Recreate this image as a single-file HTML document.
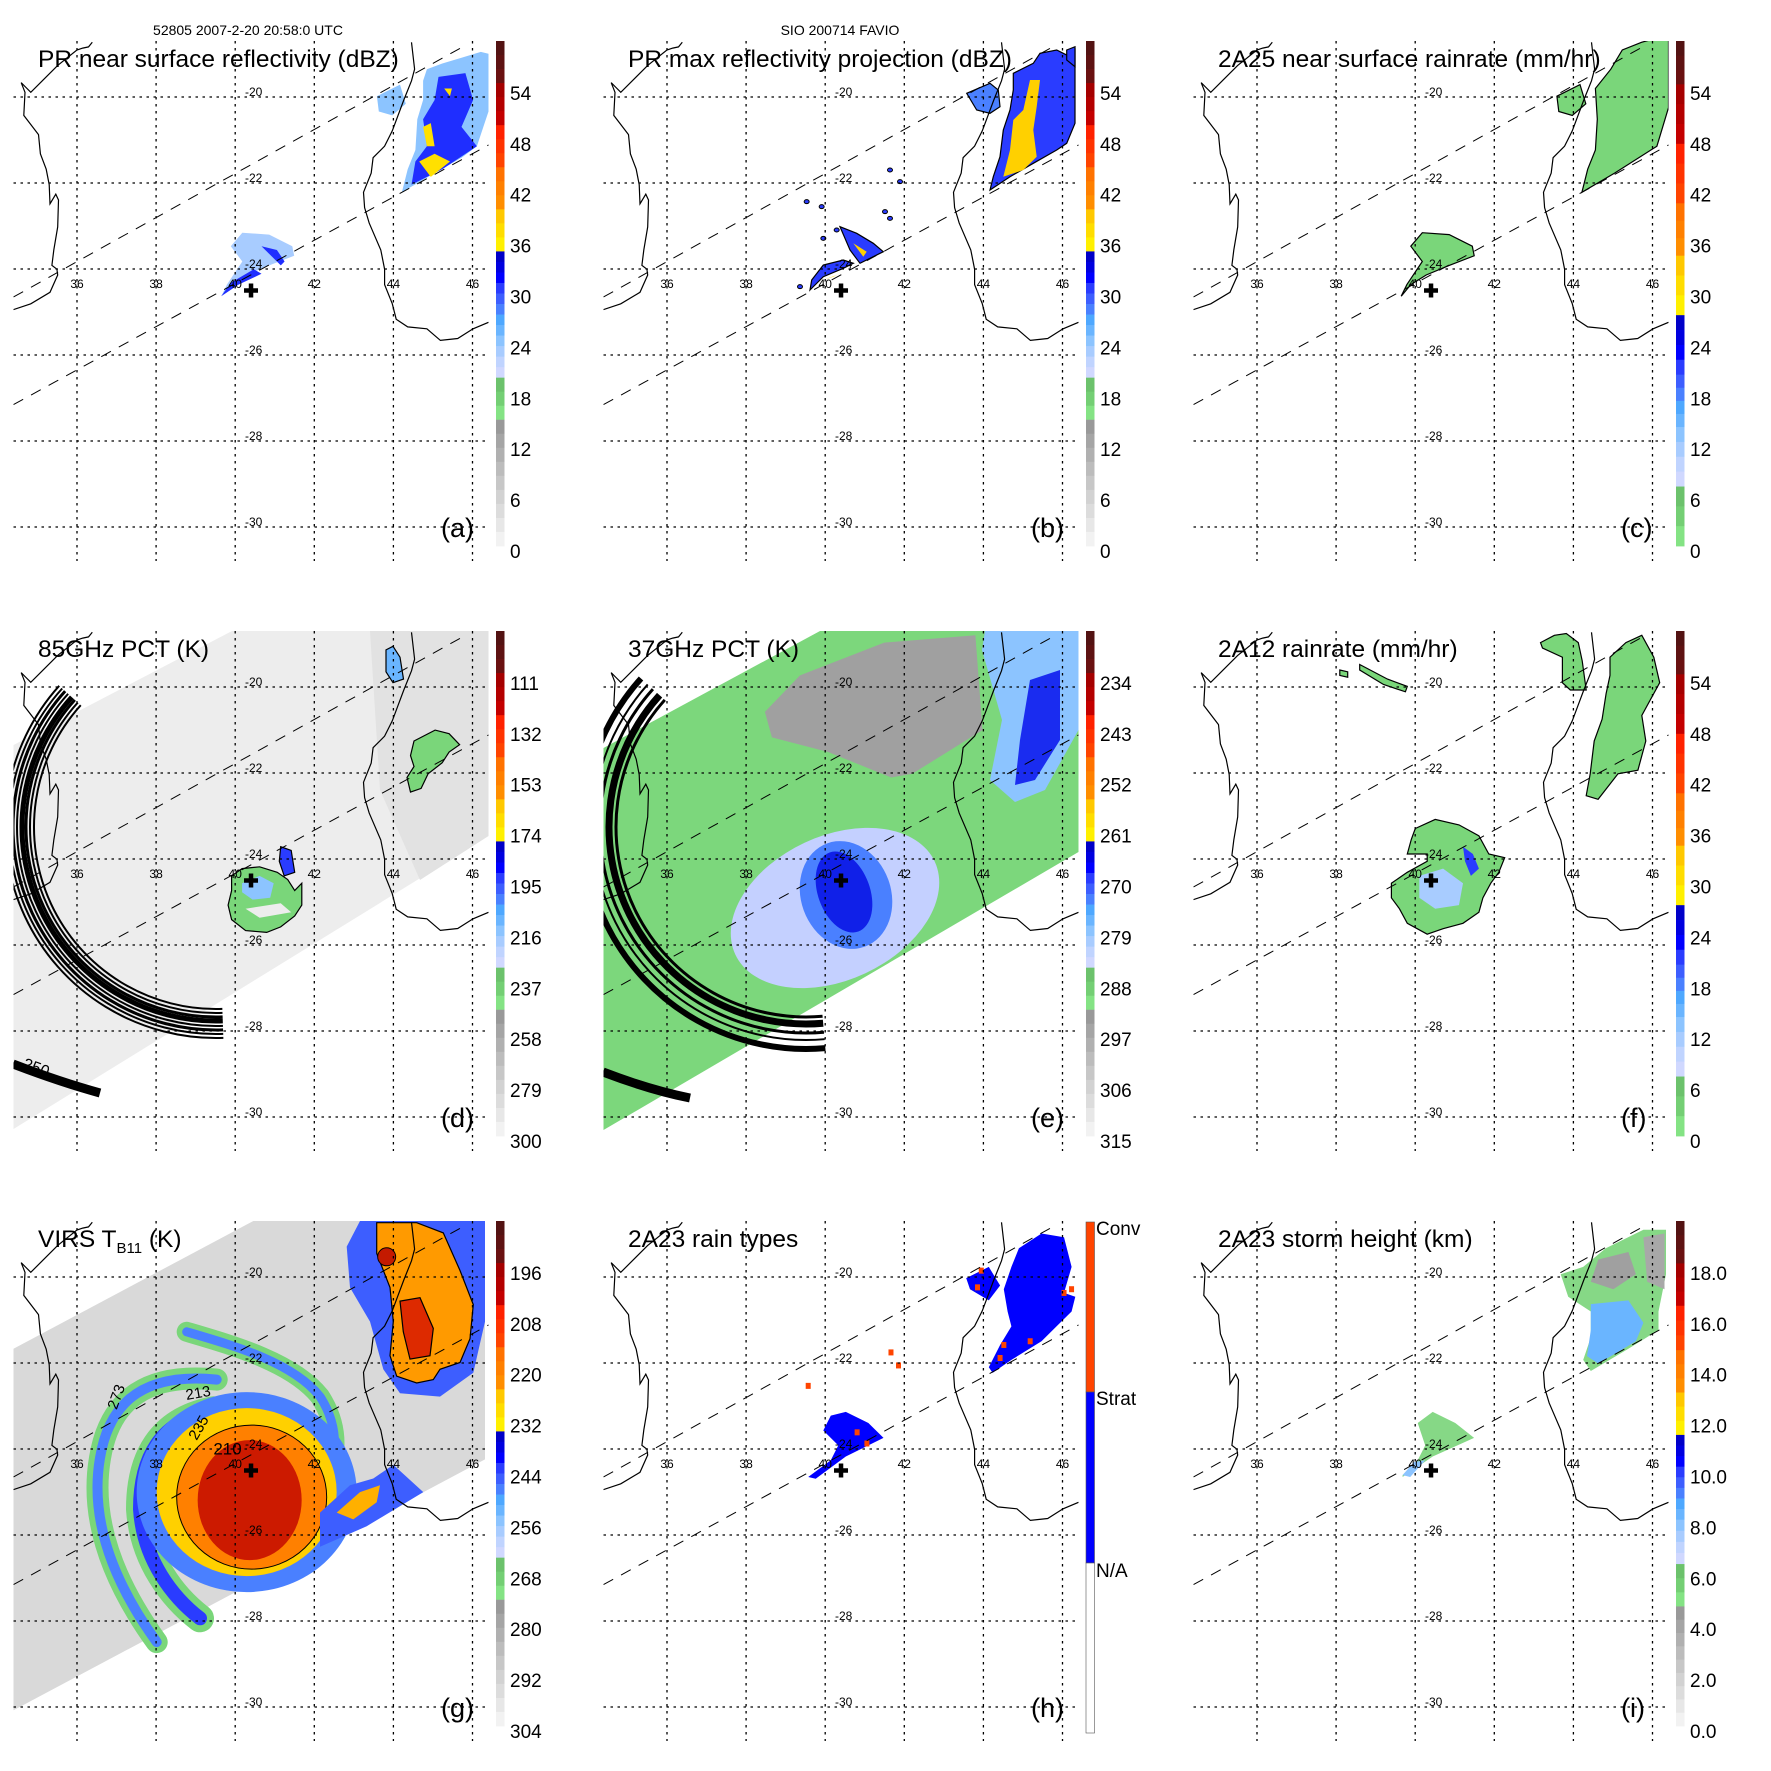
<!DOCTYPE html>
<html><head><meta charset="utf-8"><style>
html,body{margin:0;padding:0;background:#fff;}
svg{display:block;font-family:"Liberation Sans",sans-serif;}
</style></head><body>
<svg id="fig" xmlns="http://www.w3.org/2000/svg" width="1771" height="1771" viewBox="0 0 1771 1771">
<defs>
<clipPath id="plotclip"><rect x="13.5" y="41" width="475" height="521"/></clipPath>
</defs>
<text x="248" y="35" font-size="14" text-anchor="middle">52805 2007-2-20 20:58:0 UTC</text>
<text x="840" y="35" font-size="14" text-anchor="middle">SIO 200714 FAVIO</text>
</svg>
<script>
// ---- data arrays ----
var lonTicks = [36, 38, 40, 42, 44, 46];
var latTicks = [-20, -22, -24, -26, -28, -30];
var stormCenter = [40.4, -24.5];
var labelsA = ['0','6','12','18','24','30','36','42','48','54'];
var labelsC = ['0','6','12','18','24','30','36','42','48','54'];
var labelsD = ['300','279','258','237','216','195','174','153','132','111'];
var labelsE = ['315','306','297','288','279','270','261','252','243','234'];
var labelsG = ['304','292','280','268','256','244','232','220','208','196'];
var labelsI = ['0.0','2.0','4.0','6.0','8.0','10.0','12.0','14.0','16.0','18.0'];
var labelsH = ['Conv','Strat','N/A'];
var titles = ['PR near surface reflectivity (dBZ)','PR max reflectivity projection (dBZ)','2A25 near surface rainrate (mm/hr)','85GHz PCT (K)','37GHz PCT (K)','2A12 rainrate (mm/hr)','VIRS T','2A23 rain types','2A23 storm height (km)'];
var letters = ['(a)','(b)','(c)','(d)','(e)','(f)','(g)','(h)','(i)'];

// ---- axis functions ----
function X(lon){ return 77 + (lon-36)*39.55; }
function Y(lat){ return 97 + (-20-lat)*43.0; }

var NS='http://www.w3.org/2000/svg';
var svg=document.getElementById('fig');
function el(tag, attrs, parent){ var e=document.createElementNS(NS,tag); for(var k in attrs) e.setAttribute(k,attrs[k]); (parent||svg).appendChild(e); return e; }
function pts(arr, f){ return arr.map(function(p){ var q=f(p[0],p[1]); return q[0].toFixed(1)+','+q[1].toFixed(1); }).join(' '); }
var Z3=function(x,y){return [x/2.6,y/2.6];};
var Z7=function(x,y){return [x/3,y/3+30];};
var Z4d=function(x,y){return [x/1.425,100+(y-190)*0.3645];};
var Z4e=function(x,y){return [x/1.425-590,100+(y-190)*0.3645];};
var Z5=function(x,y){return [x/2.516-31,100+(y-190)*0.3645];};
var Z2=function(x,y){return [x/3,100+(y-178)*0.341];};
var Z6h=function(x,y){return [x/1.329,y/2.69+20];};
var Z6i=function(x,y){return [x/1.329-590,y/2.69+20];};
var ID=function(x,y){return [x,y];};
function poly(g, arr, f, fill, stroke, name){ var p=el('polygon',{points:pts(arr,f),fill:fill,stroke:stroke||'none','stroke-width':1.2},g);
 
  return p; }

var africa=[[240,110],[230,122],[215,125],[200,130],[150,170],[110,210],[80,240],[65,225],[55,215],[65,240],[62,300],[100,350],[105,400],[120,440],[128,480],[130,530],[145,505],[152,520],[150,590],[140,650],[135,690],[148,700],[150,715],[130,760],[80,790],[35,805]];
var madag=[[1070,110],[1078,180],[1070,210],[1050,260],[1020,340],[1000,380],[970,410],[965,450],[945,500],[948,540],[960,580],[990,650],[1000,700],[1000,740],[1020,790],[1030,830],[1060,850],[1110,855],[1145,885],[1190,880],[1230,855],[1270,838]];

var maroon=['#531313','#5e1212','#6a1111'], dred=['#a50000','#b40000','#c40000'], red=['#ff2200','#ff3300','#ff4400'],
 orange=['#ff7200','#ff8000','#ff8e00'], yellow=['#ffc800','#ffdd00','#fff000'],
 blues=['#0000c8','#0000e0','#0000ff','#2a3cff','#3d5eff','#4a80ff','#4ea8ff','#6ab5ff','#8cc4ff','#a8ccff','#c0d4ff','#d0d8ff'],
 green=['#6cc26c','#74cf74','#84e384'], gray=['#999','#a5a5a5','#b0b0b0','#bcbcbc','#c7c7c7','#d2d2d2','#dcdcdc','#e7e7e7','#f2f2f2'];
var STD=[[3,maroon],[3,dred],[3,red],[3,orange],[3,yellow],[9,blues],[3,green],[9,gray]];
var CF=[[.086,maroon],[.118,dred],[.118,red],[.104,orange],[.118,yellow],[.118,blues.slice(0,4)],[.104,blues.slice(4,8)],[.118,blues.slice(8)],[.118,green]];
var IB=[[.084,maroon],[.084,dred],[.088,red],[.084,orange],[.084,yellow],[.168,blues.slice(0,8)],[.088,blues.slice(8)],[.084,green],[.237,gray]];

function colorbar(g, spec, labels){
  var top=41, bot=546, tot=0; spec.forEach(function(s){tot+=s[0];});
  var y=top;
  spec.forEach(function(s){ var h=(bot-top)*s[0]/tot, n=s[1].length;
    s[1].forEach(function(c,i){ var r=el('rect',{x:496,y:(y+h*i/n).toFixed(2),width:8.5,height:(h/n+0.4).toFixed(2),fill:c},g);
      
       });
    y+=h; });
  labels.forEach(function(t,k){ var cy=551-50.9*k;
    var tx=el('text',{x:510,y:(cy+7).toFixed(1),'font-size':19},g); tx.textContent=t;
    
     });
}

var panels=[];
for(var r=0;r<3;r++) for(var c=0;c<3;c++){
  var g=el('g',{transform:'translate('+(c*590)+','+(r*590)+')'});
  
  
  var data=el('g',{'clip-path':'url(#plotclip)'},g);
  
  
  var over=el('g',{'clip-path':'url(#plotclip)'},g);
  panels.push({g:g,data:data,over:over});
}

// (a)
(function(){ var d=panels[0].data;
 poly(d,[[1110,180],[1150,165],[1200,150],[1250,135],[1270,140],[1270,290],[1240,380],[1200,410],[1130,450],[1045,500],[1060,440],[1080,390],[1085,310],[1100,260],[1100,210]],Z3,'#8cc4ff');
 poly(d,[[1140,200],[1210,190],[1230,260],[1200,330],[1240,380],[1150,440],[1070,480],[1080,420],[1110,380],[1100,310],[1130,260]],Z3,'#1f2eff');
 poly(d,[[1090,420],[1130,400],[1170,420],[1120,460]],Z3,'#ffe000');
 poly(d,[[1100,330],[1120,320],[1130,380],[1110,380]],Z3,'#ffe000');
 poly(d,[[1155,230],[1175,230],[1170,250]],Z3,'#ffe000');
 poly(d,[[980,250],[1040,220],[1055,270],[1020,300],[985,290]],Z3,'#8cc4ff');
 poly(d,[[575,770],[600,740],[640,715],[700,690],[765,665],[760,640],[700,610],[630,605],[600,640],[630,680],[590,740]],Z3,'#a8ccff');
 poly(d,[[575,770],[620,740],[680,712],[660,700],[600,735]],Z3,'#1f2eff');
 poly(d,[[680,640],[720,650],[740,680],[730,690]],Z3,'#1f2eff');
})();
// (b)
(function(){ var d=panels[1].data;
 poly(d,[[1270,130],[1330,100],[1350,70],[1400,60],[1440,80],[1455,60],[1455,280],[1430,340],[1400,360],[1330,400],[1260,440],[1200,480],[1210,440],[1230,380],[1240,300],[1260,240],[1270,180]],Z7,'#2a3cff','#000');
 poly(d,[[1320,150],[1350,150],[1340,230],[1330,300],[1340,380],[1300,420],[1240,440],[1260,360],[1270,270],[1300,240]],Z7,'#ffd000');
 poly(d,[[1130,190],[1200,160],[1225,180],[1230,230],[1200,250],[1160,240]],Z7,'#4a80ff','#000');
 poly(d,[[1430,60],[1455,50],[1455,110],[1430,90]],Z7,'#2a3cff','#000');
 poly(d,[[660,780],[700,740],[760,715],[790,700],[760,690],[700,705],[665,750]],Z7,'#2a3cff','#000');
 poly(d,[[700,750],[740,735],[760,725],[730,740]],Z7,'#ffd000');
 poly(d,[[750,590],[800,610],[850,640],[880,665],[810,700],[780,660]],Z7,'#2a3cff','#000');
 poly(d,[[790,640],[830,665],[820,680]],Z7,'#ffd000');
 [[900,420],[930,455],[885,545],[900,565],[650,515],[695,530],[740,600],[700,625],[630,770]].forEach(function(p){
  var q=Z7(p[0],p[1]); var e=el('ellipse',{cx:q[0],cy:q[1],rx:2.5,ry:2,fill:'#2a3cff',stroke:'#000'},d);
  
   });
})();
// (c)
(function(){ var d=panels[2].data;
 poly(d,[[1080,230],[1120,180],[1150,130],[1200,110],[1255,95],[1270,90],[1270,280],[1240,380],[1130,450],[1045,500],[1060,440],[1080,390],[1085,310]],Z3,'#7ad67a','#000');
 poly(d,[[980,250],[1040,220],[1055,270],[1020,300],[985,290]],Z3,'#7ad67a','#000');
 poly(d,[[575,770],[600,740],[640,715],[700,690],[765,665],[760,640],[700,610],[630,605],[600,640],[630,680],[590,740]],Z3,'#7ad67a','#000');
})();
// (d)
(function(){ var d=panels[3].data;
 poly(d,[[13.5,155],[232,41],[488.5,41],[488.5,246],[13.5,539]],ID,'#ededed',null,'tmi-swath');
 poly(d,[[370,41],[488.5,41],[488.5,246],[420,290],[380,200]],ID,'#e2e2e2');
 [[182,2],[186,2],[190,3],[194,5],[199,2],[203,3],[207,2],[211,2]].forEach(function(a){
  var cx=216,cy=237,r=a[0],t1=88*Math.PI/180,t2=222*Math.PI/180;
  var p=el('path',{d:'M'+(cx+r*Math.cos(t1))+','+(cy+r*Math.sin(t1))+' A'+r+','+r+' 0 0 1 '+(cx+r*Math.cos(t2))+','+(cy+r*Math.sin(t2)),fill:'none',stroke:'#000','stroke-width':a[1]},d);
  
   });
 var b=el('path',{d:'M13,474 Q60,492 100,503',stroke:'#000','stroke-width':9,fill:'none'},d);
 
 
 poly(d,[[330,700],[345,680],[370,675],[395,690],[410,710],[420,740],[430,720],[430,780],[420,810],[400,840],[380,855],[350,850],[330,820],[325,780],[330,740]],Z4d,'#7ad67a','#000');
 poly(d,[[345,720],[370,700],[390,720],[385,760],[360,765],[345,745]],Z4d,'#8cc4ff');
 poly(d,[[350,790],[400,775],[415,800],[370,815]],Z4d,'#ededed');
 poly(d,[[400,620],[415,630],[420,690],[405,700],[398,660]],Z4d,'#2a3cff','#000');
 poly(d,[[590,330],[620,300],[640,310],[655,340],[640,360],[630,390],[610,420],[600,460],[585,470],[580,430],[590,400],[585,370]],Z4d,'#7ad67a','#000');
 poly(d,[[550,80],[560,70],[570,100],[575,160],[560,170],[550,140]],Z4d,'#6ab5ff','#000');
 var t=el('text',{x:22,y:478,'font-size':16,transform:'rotate(20 22 478)'},d); t.textContent='250';
 
 
})();
// (e)
(function(){ var d=panels[4].data;
 poly(d,[[13.5,158],[230,41],[488.5,41],[488.5,262],[13.5,540]],ID,'#7cd77c',null,'tmi-swath');
 poly(d,[[1090,250],[1140,150],[1260,60],[1390,40],[1400,300],[1300,420],[1270,430],[1180,360],[1100,320]],Z4e,'#a0a0a0');
 var e1=el('ellipse',{cx:245,cy:318,rx:110,ry:72,fill:'#c4d0ff',transform:'rotate(-25 245 318)'},d);
 
 
 var e2=el('ellipse',{cx:256,cy:305,rx:45,ry:55,fill:'#4a80ff',transform:'rotate(-20 256 305)'},d);
 
 
 var e3=el('ellipse',{cx:254,cy:302,rx:26,ry:42,fill:'#1020e8',transform:'rotate(-20 254 302)'},d);
 
 
 poly(d,[[395,41],[488.5,41],[488.5,140],[455,200],[425,212],[400,190],[412,130],[392,60]],ID,'#8cc4ff');
 poly(d,[[440,90],[470,80],[470,150],[445,190],[425,195],[430,150]],ID,'#1a2cf0');
 [[190,3],[197,7],[206,3],[213,2],[222,6]].forEach(function(a){
  var cx=216,cy=237,r=a[0],t1=85*Math.PI/180,t2=222*Math.PI/180;
  var p=el('path',{d:'M'+(cx+r*Math.cos(t1))+','+(cy+r*Math.sin(t1))+' A'+r+','+r+' 0 0 1 '+(cx+r*Math.cos(t2))+','+(cy+r*Math.sin(t2)),fill:'none',stroke:'#000','stroke-width':a[1]},d);
  
   });
 var b=el('path',{d:'M13,482 Q60,500 100,508',stroke:'#000','stroke-width':9,fill:'none'},d);
 
 
})();
// (f)
(function(){ var d=panels[5].data;
 poly(d,[[670,570],[720,545],[780,560],[830,590],[855,640],[895,650],[880,690],[860,720],[840,760],[830,800],[790,830],[740,845],[700,860],[650,830],[630,790],[610,760],[610,720],[650,690],[700,660],[700,640],[650,640],[660,600]],Z5,'#7ad67a','#000');
 poly(d,[[680,700],[740,680],[790,720],[780,780],[720,790],[680,760]],Z5,'#a8ccff');
 poly(d,[[790,620],[815,640],[830,680],[810,700],[795,660]],Z5,'#2a3cff');
 poly(d,[[1160,100],[1200,60],[1240,40],[1270,100],[1285,170],[1240,260],[1250,330],[1230,410],[1180,420],[1130,490],[1100,480],[1110,420],[1120,330],[1140,270],[1150,200],[1160,150]],Z5,'#7ad67a','#000');
 poly(d,[[985,60],[1020,40],[1050,35],[1080,60],[1090,110],[1100,190],[1060,190],[1040,170],[1040,100],[990,75]],Z5,'#7ad67a','#000');
 poly(d,[[480,135],[500,140],[500,155],[480,150]],Z5,'#7ad67a','#000');
 poly(d,[[530,120],[600,160],[650,180],[645,195],[590,175],[530,135]],Z5,'#7ad67a','#000');
})();
// (g)
(function(){ var d=panels[6].data;
 poly(d,[[40,380],[760,5],[1455,5],[1455,704],[40,1440]],Z2,'#d9d9d9',null,'virs-swath');
 function band(dstr,w,col,nm){ var p=el('path',{d:dstr,fill:'none',stroke:col,'stroke-width':w,'stroke-linecap':'round'},d);
  
   }
 var t=function(s){ return s.replace(/(-?\d+\.?\d*),(-?\d+\.?\d*)/g,function(m,a,b){var q=Z2(+a,+b);return q[0].toFixed(1)+','+q[1].toFixed(1);}); };
 var armC=t('M650,470 C450,450 330,520 300,700 C270,870 330,1050 470,1240');
 var armA=t('M560,330 C700,370 880,420 960,520 C1000,580 1010,640 1000,700');
 var armD=t('M640,560 C480,590 420,700 420,850 C430,1000 520,1110 600,1170');
 band(armC,22,'#7ad67a','spiral-band'); band(armC,10,'#4a80ff','spiral-band-core');
 band(armA,20,'#7ad67a','spiral-band'); band(armA,9,'#4a80ff','spiral-band-core');
 band(armD,28,'#7ad67a','spiral-band'); band(armD,14,'#2a3cff','spiral-band-core');
 var q=Z2(740,800);
 var e=el('ellipse',{cx:q[0],cy:q[1],rx:110,ry:100,fill:'#4a80ff'},d);  
 e=el('ellipse',{cx:q[0],cy:q[1],rx:90,ry:84,fill:'#ffd000'},d);  
 e=el('ellipse',{cx:q[0]+5,cy:q[1]+5,rx:75,ry:72,fill:'#ff8000',stroke:'#000','stroke-width':1},d);  
 e=el('ellipse',{cx:q[0]+3,cy:q[1]+8,rx:52,ry:60,fill:'#cc1a00'},d);  
 poly(d,[[1080,5],[1455,5],[1455,300],[1420,450],[1320,520],[1200,510],[1150,440],[1110,300],[1050,200],[1040,80]],Z2,'#3d5eff');
 poly(d,[[1130,10],[1250,10],[1330,40],[1380,150],[1420,250],[1410,350],[1380,420],[1320,440],[1300,470],[1250,480],[1190,460],[1170,400],[1180,300],[1170,200],[1130,100]],Z2,'#ff9a00','#000');
 poly(d,[[1200,240],[1260,230],[1300,320],[1290,400],[1230,410],[1210,330]],Z2,'#dd2a00','#000');
 poly(d,[[960,860],[1050,780],[1120,760],[1180,720],[1270,800],[1100,900],[960,960]],Z2,'#3d5eff');
 poly(d,[[1010,860],[1080,800],[1140,780],[1130,830],[1060,880]],Z2,'#ffb000');
 q=Z2(1160,110); e=el('circle',{cx:q[0],cy:q[1],r:9,fill:'#c41a00',stroke:'#000'},d);  
 [['273',350,560,-70],['213',560,530,-10],['235',590,650,-60],['210',640,690,0]].forEach(function(a){
  var p=Z2(a[1],a[2]); var tx=el('text',{x:p[0],y:p[1],'font-size':a[0]=='210'?17:15,transform:'rotate('+a[3]+' '+p[0]+' '+p[1]+')'},d); tx.textContent=a[0];
  
   });
})();
// (h)
(function(){ var d=panels[7].data;
 poly(d,[[570,130],[600,90],[630,100],[640,180],[630,250],[645,260],[640,300],[620,340],[600,380],[560,430],[535,465],[530,450],[545,390],[560,340],[555,300],[550,240],[560,180]],Z6h,'#0000ff');
 poly(d,[[500,210],[530,180],[545,230],[530,270],[505,240]],Z6h,'#0000ff');
 poly(d,[[290,745],[320,700],[330,660],[310,620],[320,580],[340,570],[370,600],[390,640],[340,690],[300,750]],Z6h,'#0000ff');
 [[520,190],[515,235],[550,390],[545,425],[585,380],[630,250],[355,625],[368,655],[290,500],[400,410],[410,445],[640,240]].forEach(function(p){
  var q=Z6h(p[0],p[1]); var e=el('rect',{x:q[0]-2.5,y:q[1]-3,width:5,height:6,fill:'#ff4400'},d);
  
   });
})();
// (i)
(function(){ var d=panels[8].data;
 poly(d,[[1350,130],[1400,80],[1430,80],[1430,200],[1420,300],[1420,350],[1380,400],[1330,460],[1320,430],[1330,370],[1330,300],[1300,260],[1290,200],[1320,180]],Z6i,'#86d886');
 poly(d,[[1330,280],[1380,270],[1400,330],[1390,380],[1340,440],[1325,420],[1330,350]],Z6i,'#6ab5ff');
 poly(d,[[1340,160],[1380,140],[1390,200],[1360,240],[1330,220]],Z6i,'#a0a0a0');
 poly(d,[[1400,100],[1428,90],[1428,240],[1405,220]],Z6i,'#a8a8a8');
 poly(d,[[1080,740],[1100,700],[1110,660],[1100,600],[1120,570],[1150,600],[1175,640],[1120,690],[1080,745]],Z6i,'#86d886');
 poly(d,[[1080,740],[1095,705],[1110,700],[1090,745]],Z6i,'#8cc4ff');
})();

// ---------- common overlays ----------
panels.forEach(function(P,i){
  var g=P.g, o=P.over;
  lonTicks.forEach(function(lon){ var l=el('line',{x1:X(lon),y1:41,x2:X(lon),y2:561,stroke:'#000','stroke-width':1.3,'stroke-dasharray':'2.5,4.5'},g);
    
    
    var t=el('text',{x:X(lon),y:288,'font-size':12,'text-anchor':'middle'},g); t.textContent=lon;
    
     });
  latTicks.forEach(function(lat){ var l=el('line',{x1:13.5,y1:Y(lat),x2:488.5,y2:Y(lat),stroke:'#000','stroke-width':1.3,'stroke-dasharray':'2.5,4.5'},g);
    
    
    var t=el('text',{x:245,y:Y(lat)-1,'font-size':12},g); t.textContent=lat;
    
     });
  var c1=el('polyline',{points:pts(africa,Z3),fill:'none',stroke:'#000','stroke-width':1.2},o);
  
  
  var c2=el('polyline',{points:pts(madag,Z3),fill:'none',stroke:'#000','stroke-width':1.2},o);
  
  
  [[13.5,297,466,45],[13.5,404.6,488.5,145]].forEach(function(L){
    var l=el('line',{x1:L[0],y1:L[1],x2:L[2],y2:L[3],stroke:'#000','stroke-width':1,'stroke-dasharray':'11,9'},o);
    
     });
  var cx=X(stormCenter[0]), cy=Y(stormCenter[1]);
  var cr=el('path',{d:'M'+(cx-7)+','+cy+' h14 M'+cx+','+(cy-7)+' v14',stroke:'#000','stroke-width':4.5},g);
  
  
  var tt=el('text',{x:38,y:67,'font-size':24.5},g);
  
  
  if(i==6){ tt.textContent='VIRS T'; var s=el('tspan',{'font-size':15,dy:6},tt); s.textContent='B11';
    
    
    var s2=el('tspan',{dy:-6},tt); s2.textContent=' (K)';
    
     }
  else tt.textContent=titles[i];
  var lt=el('text',{x:441,y:537,'font-size':27},g); lt.textContent=letters[i];
  
  
});
var cbLabels=[labelsA,labelsA,labelsC,labelsD,labelsE,labelsC,labelsG,null,labelsI];
var cbSpec=[STD,STD,CF,STD,STD,CF,STD,null,IB];
panels.forEach(function(P,i){
  var cg=el('g',{},P.g);
  
  
  if(i==7){
    var segs=[[42,212,'#ff4400'],[212,383,'#0000ff'],[383,553,'#ffffff']];
    segs.forEach(function(s){ var r=el('rect',{x:496,y:s[0],width:8.5,height:s[1]-s[0],fill:s[2],stroke:'#555','stroke-width':0.6},cg);
      
       });
    labelsH.forEach(function(t,k){ var tx=el('text',{x:506,y:[55,225,397][k],'font-size':19},cg); tx.textContent=t;
      
       });
  } else colorbar(cg,cbSpec[i],cbLabels[i]);
});
</script>
</body></html>
